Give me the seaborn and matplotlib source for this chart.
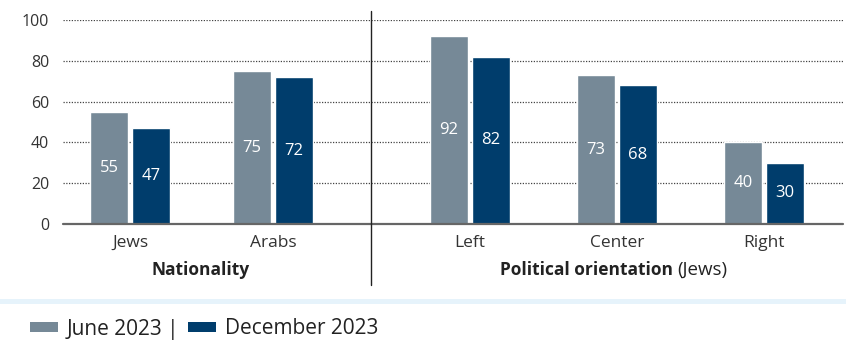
import matplotlib
matplotlib.use("Agg")
import matplotlib.pyplot as plt
from matplotlib.patches import Patch, Rectangle
from matplotlib.lines import Line2D
import seaborn as sns
import pandas as pd

# Share of respondents, by group and survey wave
nationality = ["Jews", "Arabs"]
nationality_june = [55, 75]
nationality_dec = [47, 72]

orientation = ["Left", "Center", "Right"]
orientation_june = [92, 73, 40]
orientation_dec = [82, 68, 30]

waves = ["June 2023", "December 2023"]
y_ticks = [0, 20, 40, 60, 80, 100]

LIGHT = "#768997"
DARK = "#003D6C"
TEXT = "#333333"

sns.set_theme(style="white")
plt.rcParams["font.family"] = ["Open Sans", "DejaVu Sans"]


def long_table(cats, june, dec):
    return pd.DataFrame({
        "group": cats * 2,
        "wave": [waves[0]] * len(cats) + [waves[1]] * len(cats),
        "value": june + dec,
    })


fig = plt.figure(figsize=(8.46, 3.41), dpi=100)
W, H = 846, 341
bottom = 1 - 224 / H
height = (224 - 20) / H
ax1 = fig.add_axes([63 / W, bottom, 308 / W, height])
ax2 = fig.add_axes([371 / W, bottom, 472 / W, height], sharey=ax1)

panels = [
    (ax1, long_table(nationality, nationality_june, nationality_dec), nationality, 0.589, (-0.4685, 1.685)),
    (ax2, long_table(orientation, orientation_june, orientation_dec), orientation, 0.573, (-0.673, 2.537)),
]

for ax, df, order, width, xlim in panels:
    sns.barplot(data=df, x="group", y="value", hue="wave", order=order,
                hue_order=waves, palette=[LIGHT, DARK], width=width, gap=0.1,
                saturation=1, ax=ax, legend=False, zorder=3)
    for cont in ax.containers:
        ax.bar_label(cont, label_type="center", color="white", fontsize=12)
    ax.set_xlim(*xlim)
    ax.set_ylim(0, 100)
    ax.set_xlabel("")
    ax.set_ylabel("")
    for y in y_ticks[1:]:
        ax.axhline(y, color="#444444", linestyle=(0, (1, 1.2)), linewidth=0.9, zorder=1)
    ax.axhline(0, color="#666666", linewidth=1.6, zorder=4, clip_on=False)
    for s in ax.spines.values():
        s.set_visible(False)
    ax.tick_params(axis="x", length=0, pad=8, labelsize=12.5, labelcolor=TEXT)

ax1.set_yticks(y_ticks)
ax1.tick_params(axis="y", length=0, pad=10, labelsize=11.5, labelcolor=TEXT)
ax2.tick_params(axis="y", left=False, labelleft=False)

# Divider between the two panels
fig.add_artist(Line2D([371 / W, 371 / W], [1 - 11 / H, 1 - 285 / H],
                      color="#222222", linewidth=1.0))

# Panel titles
fig.text(201 / W, 1 - 270 / H, "Nationality", ha="center", va="center",
         fontsize=12.5, fontweight="bold", color="#222222")
fig.text(673 / W, 1 - 270 / H, "Political orientation", ha="right", va="center",
         fontsize=12.5, fontweight="bold", color="#222222")
fig.text(677 / W, 1 - 270 / H, "(Jews)", ha="left", va="center",
         fontsize=13.5, color="#222222")

# Light separator band above the legend
fig.add_artist(Rectangle((0, 1 - 304 / H), 1, 5 / H, transform=fig.transFigure,
                         facecolor="#E6F3FB", edgecolor="none"))

handles = [Patch(facecolor=LIGHT, edgecolor="none"), Patch(facecolor=DARK, edgecolor="none")]
fig.legend(handles, ["June 2023 |", "December 2023"], ncol=2, frameon=False,
           loc="center left", bbox_to_anchor=(11 / W, 1 - 329 / H),
           fontsize=15, handlelength=1.35, handleheight=0.3, handletextpad=0.4,
           columnspacing=0.45, labelcolor="#222222")

fig.savefig("out.png", dpi=100)
